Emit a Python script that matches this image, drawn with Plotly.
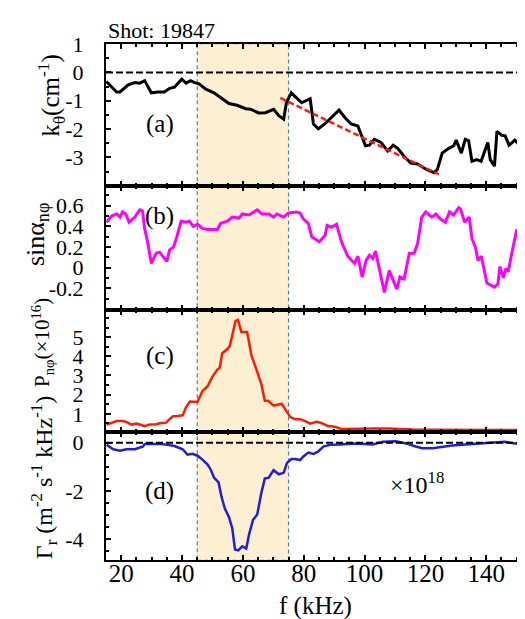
import plotly.graph_objects as go
from plotly.subplots import make_subplots

# ---------------- data ----------------
f_a = [15.1, 18.5, 19.6, 22.3, 24.5, 26.1, 27.7, 29.9, 32.1, 34.2, 35.9, 37.5, 39.9, 41.3, 42.8, 44.1,
       45.6, 47.8, 50.5, 52.7, 55.4, 58.1, 60.9, 62.5, 63.6, 65.2, 67.4, 70.1, 71.8, 73.4, 74.3, 75.9,
       79.3, 82.1, 83.2, 84.8, 86.9, 89.1, 91.6, 93.5, 95.6, 97.8, 98.9, 100.3, 101.6, 103.2, 105.4,
       107.6, 109.4, 110.9, 113.0, 115.2, 117.4, 120.1, 122.8, 123.9, 125.5, 127.7, 129.3, 130.1,
       131.8, 133.1, 134.2, 135.3, 136.9, 138.3, 140.5, 141.3, 142.7, 143.5, 145.1, 146.2, 147.5,
       149.4, 150.5, 151.4, 152.2, 153.0, 153.8, 154.6]
k_theta = [-0.32, -0.69, -0.69, -0.44, -0.36, -0.38, -0.29, -0.72, -0.69, -0.69, -0.56, -0.52, -0.24,
           -0.38, -0.29, -0.36, -0.40, -0.59, -0.72, -0.90, -1.10, -1.16, -1.28, -1.30, -1.36, -1.43,
           -1.42, -1.30, -1.53, -1.65, -1.07, -0.72, -1.07, -0.93, -1.82, -1.99, -1.82, -1.59, -1.33,
           -1.59, -1.82, -1.89, -2.17, -2.59, -2.57, -2.36, -2.47, -2.77, -2.57, -2.68, -2.97, -3.20,
           -3.23, -3.41, -3.54, -3.43, -2.85, -2.68, -2.59, -2.39, -2.85, -2.36, -2.41, -3.14, -3.08,
           -3.14, -2.47, -3.08, -3.31, -2.08, -2.22, -2.24, -2.57, -2.39, -2.51, -2.85, -3.57, -2.97,
           -3.31, -3.08]
fit_f = [72.3, 124.4]
fit_k = [-0.90, -3.60]

f_b = [15.2, 16.8, 18.5, 19.6, 20.4, 21.5, 22.6, 24.5, 26.1, 27.0, 27.7, 28.8, 29.9, 31.5, 32.6, 35.0,
       35.9, 37.2, 38.3, 39.7, 41.3, 42.4, 43.7, 45.1, 46.7, 48.4, 50.0, 51.6, 52.7, 54.9, 56.5, 58.7,
       59.8, 62.0, 63.6, 64.7, 66.3, 68.5, 70.1, 71.2, 73.4, 75.0, 77.7, 78.8, 79.9, 81.5, 82.6, 85.1,
       87.0, 87.7, 89.1, 90.8, 92.4, 94.5, 96.7, 97.8, 99.2, 100.5, 101.6, 102.7, 103.6, 104.7, 106.5,
       108.1, 110.6, 111.6, 113.0, 114.7, 116.3, 117.4, 118.8, 120.1, 122.1, 123.4, 125.0, 126.6,
       127.9, 129.3, 130.9, 131.5, 132.9, 134.4, 135.3, 136.4, 137.3, 138.4, 140.2, 142.7, 143.8,
       144.5, 145.6, 146.4, 147.2, 148.4, 150.0, 151.1, 152.7, 154.6]
sin_alpha = [0.44, 0.50, 0.52, 0.49, 0.54, 0.52, 0.44, 0.49, 0.56, 0.55, 0.38, 0.23, 0.04, 0.14, 0.15,
             0.06, 0.17, 0.20, 0.30, 0.45, 0.44, 0.45, 0.40, 0.42, 0.38, 0.37, 0.37, 0.37, 0.43, 0.45,
             0.49, 0.48, 0.52, 0.51, 0.54, 0.56, 0.52, 0.52, 0.49, 0.52, 0.49, 0.53, 0.54, 0.53, 0.47,
             0.43, 0.30, 0.25, 0.31, 0.41, 0.39, 0.42, 0.25, 0.11, 0.04, 0.11, -0.09, 0.07, 0.12, 0.09,
             0.16, 0.01, -0.24, -0.03, -0.21, -0.09, -0.11, 0.14, 0.14, 0.23, 0.49, 0.54, 0.49, 0.52,
             0.47, 0.44, 0.54, 0.51, 0.58, 0.57, 0.44, 0.49, 0.28, 0.20, 0.07, 0.11, -0.15, -0.19, -0.16,
             0.01, -0.10, -0.01, -0.04, 0.14, 0.37, 0.22, 0.22, 0.43]

f_c = [15.2, 16.8, 18.5, 20.6, 21.7, 23.4, 25.0, 26.1, 27.7, 29.4, 31.5, 33.1, 34.8, 35.9, 37.0, 38.6,
       40.2, 41.3, 42.6, 43.7, 45.1, 46.7, 48.4, 50.0, 51.6, 52.4, 53.2, 54.9, 55.7, 56.7, 57.6, 58.4,
       59.5, 61.4, 62.8, 64.7, 66.1, 67.2, 68.3, 70.1, 71.8, 72.8, 74.5, 75.6, 77.2, 78.8, 80.5, 82.1,
       84.2, 85.8, 88.0, 90.2, 92.4, 95.1, 100.0, 104.0, 108.0, 112.0, 116.0, 120.0, 130.0, 140.0,
       154.6]
p_n = [0.44, 0.54, 0.62, 0.62, 0.58, 0.44, 0.49, 0.44, 0.36, 0.44, 0.46, 0.52, 0.54, 0.72, 0.87, 0.89,
       0.92, 1.34, 1.64, 1.63, 1.63, 2.18, 2.44, 2.94, 3.31, 3.40, 4.16, 4.38, 4.54, 5.22, 5.85, 5.90,
       5.27, 5.27, 4.04, 3.20, 2.52, 1.68, 1.68, 1.43, 1.47, 1.52, 1.09, 0.83, 0.72, 0.72, 0.62, 0.49,
       0.58, 0.52, 0.36, 0.33, 0.21, 0.21, 0.20, 0.23, 0.24, 0.20, 0.18, 0.17, 0.17, 0.16, 0.16]

f_d = [15.2, 17.4, 19.6, 21.7, 24.5, 27.2, 27.7, 30.5, 33.1, 35.3, 37.5, 40.2, 41.8, 43.4, 45.1, 46.7,
       48.4, 49.4, 50.5, 52.0, 53.0, 54.1, 55.4, 56.5, 57.4, 58.5, 59.8, 61.1, 62.0, 63.3, 64.7, 66.1,
       67.2, 68.5, 70.1, 71.8, 73.4, 74.5, 75.9, 77.2, 78.8, 79.9, 81.5, 83.2, 84.8, 86.4, 88.6, 91.8,
       97.2, 102.7, 106.0, 110.3, 113.6, 116.8, 119.0, 122.3, 125.6, 128.8, 133.1, 139.6, 143.9,
       146.1, 149.4, 154.6]
gamma_r = [-0.09, -0.27, -0.33, -0.27, -0.27, -0.16, -0.05, -0.05, -0.05, -0.09, -0.14, -0.27, -0.50,
           -0.46, -0.54, -0.70, -0.91, -1.11, -1.45, -1.65, -2.26, -2.74, -3.08, -3.55, -4.43, -4.47,
           -4.30, -4.39, -3.82, -3.21, -2.98, -2.06, -1.49, -1.45, -1.14, -1.31, -1.25, -0.84, -0.68,
           -0.68, -0.72, -0.57, -0.41, -0.47, -0.36, -0.16, -0.09, -0.07, -0.03, -0.07, 0.04, 0.06,
           -0.03, -0.16, -0.23, -0.23, -0.16, -0.12, -0.07, -0.03, 0.02, 0.04, -0.03, -0.03]

band = [45, 75]
x_range = [15, 154.7]
x_tickvals = [20, 40, 60, 80, 100, 120, 140]

ya_vals = [1, 0, -1, -2, -3]
ya_text = ["1", "0", "-1", "-2", "-3"]
yb_vals = [0.6, 0.4, 0.2, 0, -0.2]
yb_text = ["0.6", "0.4", "0.2", "0", "-0.2"]
yc_vals = [1, 2, 3, 4, 5]
yc_text = ["1", "2", "3", "4", "5"]
yd_vals = [0, -2, -4]
yd_text = ["0", "-2", "-4"]

# ---------------- figure ----------------
W, H = 525, 619
ML = 98
FONT = "Liberation Serif, Times New Roman, serif"

def py(Y):
    return 1 - Y / H

def px(X):
    return (X - ML) / (W - ML)

doms = [(py(169), py(24)), (py(296), py(169)), (py(420), py(296)), (py(551), py(420))]

fig = make_subplots(rows=4, cols=1, shared_xaxes=True, vertical_spacing=0)

fig.add_trace(go.Scatter(x=f_a, y=k_theta, mode="lines", line=dict(color="black", width=3)), 1, 1)
fig.add_trace(go.Scatter(x=fit_f, y=fit_k, mode="lines",
                         line=dict(color="#FF1A1A", width=2.5, dash="6px,3px")), 1, 1)
fig.add_trace(go.Scatter(x=f_b, y=sin_alpha, mode="lines", line=dict(color="#FF00FF", width=3)), 2, 1)
fig.add_trace(go.Scatter(x=f_c, y=p_n, mode="lines", line=dict(color="#FF1A00", width=2.5)), 3, 1)
fig.add_trace(go.Scatter(x=f_d, y=gamma_r, mode="lines", line=dict(color="#1E1EDC", width=2.5)), 4, 1)

for r in (1, 4):
    fig.add_trace(go.Scatter(x=x_range, y=[0, 0], mode="lines",
                             line=dict(color="black", width=2, dash="7px,3px")), r, 1)

common = dict(showline=True, linecolor="black", linewidth=2, mirror="allticks",
              ticks="inside", ticklen=5, tickwidth=1.5, tickcolor="black",
              showgrid=False, zeroline=False)

for i in range(1, 5):
    fig.update_xaxes(row=i, col=1, range=x_range, tickvals=x_tickvals,
                     showticklabels=(i == 4), ticklabelstandoff=-10,
                     tickfont=dict(family=FONT, size=25, color="black"),
                     minor=dict(dtick=5, tick0=0, ticks="inside", ticklen=3, tickcolor="black"),
                     **common)

yset = [
    ([-4.0, 1.02], ya_vals, ya_text, 0.5),
    ([-0.414, 0.794], yb_vals, yb_text, 0.1),
    ([0.06, 6.4], yc_vals, yc_text, 0.5),
    ([-4.88, 0.45], yd_vals, yd_text, 0.5),
]
for i, (rg, tv, tt, mdt) in enumerate(yset, start=1):
    fig.update_yaxes(row=i, col=1, range=rg, tickvals=tv, ticktext=tt,
                     domain=list(doms[i - 1]), ticklabelstandoff=16,
                     tickfont=dict(family=FONT, size=22, color="black"),
                     minor=dict(dtick=mdt, tick0=0, ticks="inside", ticklen=3, tickcolor="black"),
                     **common)

fig.add_shape(type="rect", xref="x", yref="paper", x0=band[0], x1=band[1],
              y0=doms[3][0], y1=doms[0][1], fillcolor="#FDF0D2",
              line=dict(color="#4F7FAF", width=1.2, dash="4px,3px"), layer="below")

anns = [
    dict(text="(a)", x=152, y=106, size=25),
    dict(text="(b)", x=152, y=200, size=25),
    dict(text="(c)", x=152, y=343, size=25),
    dict(text="(d)", x=152, y=480, size=25),
    dict(text="×10<sup>18</sup>", x=410, y=472, size=24),
    dict(text="Shot: 19847", x=154, y=11, size=22),
    dict(text="f (kHz)", x=308, y=598, size=25),
    dict(text="k<sub>θ</sub>(cm<sup>-1</sup>)", x=42, y=77, angle=-90, size=25),
    dict(text="sinα<sub>nφ</sub>", x=28, y=218, angle=-90, size=26),
    dict(text="P<sub>nφ</sub>(×10<sup>16</sup>)", x=34, y=329, angle=-90, size=21),
    dict(text="Γ<sub>r</sub> (m<sup>-2</sup> s<sup>-1</sup> kHz<sup>-1</sup>)", x=36, y=467, angle=-90, size=24),
]
for a in anns:
    fig.add_annotation(text=a["text"], xref="paper", yref="paper",
                       x=px(a["x"]), y=py(a["y"]), xanchor="center", yanchor="middle",
                       showarrow=False, textangle=a.get("angle", 0),
                       font=dict(family=FONT, size=a.get("size", 24), color="black"))

fig.update_layout(width=W, height=H, margin=dict(l=ML, r=0, t=0, b=0),
                  font=dict(family=FONT, size=22, color="black"),
                  paper_bgcolor="white", plot_bgcolor="rgba(0,0,0,0)",
                  showlegend=False)

fig.write_html("out.html")
